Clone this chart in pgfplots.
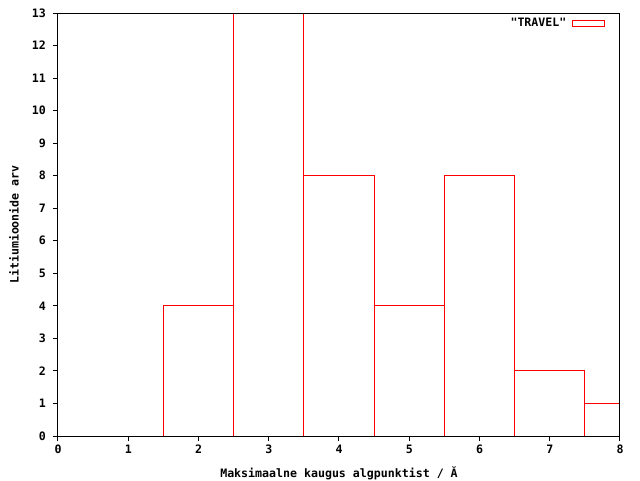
\documentclass[border=0pt]{standalone}
\usepackage{pgfplots}
\pgfplotsset{compat=1.18}
\usepackage{fontspec}
\setmainfont{DejaVu Sans Mono}[Ligatures=TeXOff]
\begin{document}
\fontsize{8.7}{10}\selectfont\bfseries
\begin{tikzpicture}
\useasboundingbox (-43.5pt,-33pt) rectangle (436.5pt,327pt);
\begin{axis}[
  at={(0,0)}, anchor=south west,
  scale only axis, width=421.5pt, height=317.25pt,
  xmin=0, xmax=8, ymin=0, ymax=13,
  axis on top,
  xtick={0,1,2,3,4,5,6,7,8}, ytick={0,1,2,3,4,5,6,7,8,9,10,11,12,13},
  tick align=outside, xtick pos=bottom, ytick pos=left,
  major tick length=3.75pt,
  axis line style={line width=0.75pt},
  every tick/.style={black, line width=0.75pt},
  /pgf/number format/assume math mode=true,
  tick label style={font=\fontsize{8.7}{10}\selectfont\bfseries},
  yticklabel style={xshift=-2.25pt},
  label style={font=\fontsize{8.7}{10}\selectfont\bfseries},
  xlabel={Maksimaalne kaugus algpunktist / Ă},
  ylabel={Litiumioonide arv},
  every axis x label/.style={at={(axis description cs:0.5,-0.0875)}, anchor=center},
  every axis y label/.style={at={(axis description cs:-0.0783,0.5)}, rotate=90, anchor=center},
  legend style={draw=none, fill=none, inner sep=0pt, at={(axis description cs:1,1)}, anchor=east, xshift=-11.25pt, yshift=-7.5pt, font=\fontsize{8.7}{10}\selectfont\bfseries, column sep=2pt},
  legend plot pos=right,
  legend image code/.code={\draw[red, line width=0.75pt] (0pt,-2.25pt) rectangle (24pt,2.25pt);},
]
\addplot[ybar interval, draw=red, fill=none, line width=0.75pt] coordinates {(1.5,4) (2.5,14) (3.5,8) (4.5,4) (5.5,8) (6.5,2) (7.5,1) (8.5,1)};
\addlegendentry{"TRAVEL"}
\end{axis}
\end{tikzpicture}
\end{document}
